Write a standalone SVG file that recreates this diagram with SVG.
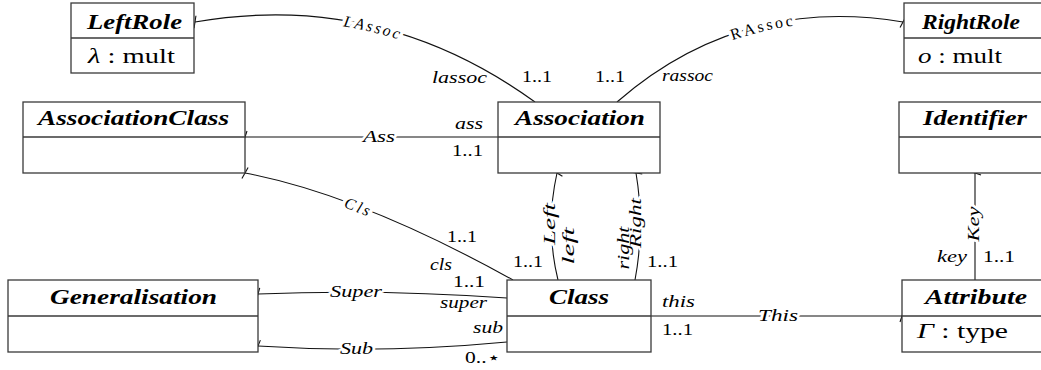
<svg xmlns="http://www.w3.org/2000/svg" width="1041" height="370" viewBox="0 0 1041 370" font-family="Liberation Serif, DejaVu Serif, serif">
  <style>
    .box { fill: #fff; stroke: #3a3a3a; stroke-width: 1.3; }
    .sep { stroke: #3a3a3a; stroke-width: 1.3; }
    .edge { fill: none; stroke: #111; stroke-width: 1.1; }
    .title { font-weight: bold; font-style: italic; font-size: 22px; text-anchor: middle; fill: #000; }
    .body { font-size: 20px; fill: #000; }
    .it { font-style: italic; }
    .lbl { font-size: 16px; font-style: italic; fill: #000; }
    .num { font-size: 16px; fill: #000; }
    .halo { stroke: #fff; stroke-width: 4; paint-order: stroke; stroke-linejoin: round; }
    .wide { stroke-width: 7; }
    .mid { text-anchor: middle; }
  </style>
  <defs>
    <marker id="bar" markerUnits="userSpaceOnUse" viewBox="-8 -8 16 16" markerWidth="16" markerHeight="16" refX="0" refY="0" orient="auto" overflow="visible">
      <path d="M2,-6 L-2,6" stroke="#111" stroke-width="1.1" fill="none"/>
    </marker>
    <path id="p-lassoc" d="M195,22 Q380,-10 535,102"/>
    <path id="p-rassoc" d="M617,102 Q740,-5 903,22"/>
    <path id="p-cls" d="M245,173 Q360,195 513,280"/>
  </defs>

  <!-- connectors -->
  <g id="connectors">
    <use href="#p-lassoc" class="edge" marker-start="url(#bar)"/>
    <use href="#p-rassoc" class="edge" marker-end="url(#bar)"/>
    <use href="#p-cls" class="edge" marker-start="url(#bar)"/>
    <path class="edge" d="M245,137 L498,137" marker-start="url(#bar)"/>
    <path class="edge" d="M557,173 Q545,227 558,280" marker-start="url(#bar)"/>
    <path class="edge" d="M636,173 Q645,227 635,280" marker-start="url(#bar)"/>
    <path class="edge" d="M975,173 L975,280" marker-start="url(#bar)"/>
    <path class="edge" d="M258,294 Q380,289 507,298" marker-start="url(#bar)"/>
    <path class="edge" d="M258,346 Q380,354 507,342" marker-start="url(#bar)"/>
    <path class="edge" d="M651,316 L902,316" marker-end="url(#bar)"/>

    <!-- association names -->
    <text class="lbl halo wide" dominant-baseline="central" letter-spacing="2.3"><textPath href="#p-lassoc" startOffset="50%" text-anchor="middle">LAssoc</textPath></text>
    <text class="num halo wide" dominant-baseline="central" letter-spacing="2.8"><textPath href="#p-rassoc" startOffset="54%" text-anchor="middle">RAssoc</textPath></text>
    <text class="lbl halo wide" dominant-baseline="central" letter-spacing="2.3"><textPath href="#p-cls" startOffset="41%" text-anchor="middle">Cls</textPath></text>
    <text class="lbl halo" x="363" y="142" textLength="32" lengthAdjust="spacingAndGlyphs">Ass</text>
    <text class="lbl halo" x="330" y="297" textLength="52" lengthAdjust="spacingAndGlyphs">Super</text>
    <text class="lbl halo" x="340" y="354" textLength="33" lengthAdjust="spacingAndGlyphs">Sub</text>
    <text class="lbl halo" x="758" y="321" textLength="40" lengthAdjust="spacingAndGlyphs">This</text>
    <text class="lbl halo mid" transform="translate(555,224) rotate(-90)" textLength="42" lengthAdjust="spacingAndGlyphs">Left</text>
    <text class="lbl halo mid" transform="translate(641,223) rotate(-90)" textLength="50" lengthAdjust="spacingAndGlyphs">Right</text>
    <text class="lbl halo mid" transform="translate(979,224) rotate(-90)" textLength="35" lengthAdjust="spacingAndGlyphs">Key</text>

    <!-- role names -->
    <text class="lbl" x="432" y="83" textLength="55" lengthAdjust="spacingAndGlyphs">lassoc</text>
    <text class="lbl" x="662" y="81" textLength="51" lengthAdjust="spacingAndGlyphs">rassoc</text>
    <text class="lbl" x="455" y="129" textLength="28" lengthAdjust="spacingAndGlyphs">ass</text>
    <text class="lbl" x="430" y="270" textLength="22" lengthAdjust="spacingAndGlyphs">cls</text>
    <text class="lbl" x="440" y="308" textLength="47" lengthAdjust="spacingAndGlyphs">super</text>
    <text class="lbl" x="473" y="333" textLength="30" lengthAdjust="spacingAndGlyphs">sub</text>
    <text class="lbl" x="662" y="307" textLength="33" lengthAdjust="spacingAndGlyphs">this</text>
    <text class="lbl" x="937" y="262" textLength="30" lengthAdjust="spacingAndGlyphs">key</text>
    <text class="lbl mid" transform="translate(574,246) rotate(-90)" textLength="37" lengthAdjust="spacingAndGlyphs">left</text>
    <text class="lbl mid" transform="translate(629,248) rotate(-90)" textLength="43" lengthAdjust="spacingAndGlyphs">right</text>

    <!-- multiplicities -->
    <text class="num" x="522" y="82" textLength="30" lengthAdjust="spacingAndGlyphs">1..1</text>
    <text class="num" x="595" y="82" textLength="30" lengthAdjust="spacingAndGlyphs">1..1</text>
    <text class="num" x="452" y="156" textLength="31" lengthAdjust="spacingAndGlyphs">1..1</text>
    <text class="num" x="447" y="242" textLength="30" lengthAdjust="spacingAndGlyphs">1..1</text>
    <text class="num" x="453" y="287" textLength="32" lengthAdjust="spacingAndGlyphs">1..1</text>
    <text class="num" x="465" y="363" textLength="35" lengthAdjust="spacingAndGlyphs">0..⋆</text>
    <text class="num" x="513" y="267" textLength="30" lengthAdjust="spacingAndGlyphs">1..1</text>
    <text class="num" x="647" y="267" textLength="31" lengthAdjust="spacingAndGlyphs">1..1</text>
    <text class="num" x="662" y="335" textLength="31" lengthAdjust="spacingAndGlyphs">1..1</text>
    <text class="num" x="983" y="262" textLength="32" lengthAdjust="spacingAndGlyphs">1..1</text>
  </g>

  <!-- classes -->
  <g id="LeftRole">
    <rect class="box" x="71" y="3" width="123" height="70"/>
    <line class="sep" x1="71" y1="38" x2="194" y2="38"/>
    <text class="title" x="134.5" y="29" textLength="95" lengthAdjust="spacingAndGlyphs">LeftRole</text>
    <text class="body" x="88" y="63" textLength="87" lengthAdjust="spacingAndGlyphs"><tspan class="it">λ</tspan> : mult</text>
  </g>
  <g id="RightRole">
    <rect class="box" x="904" y="3" width="140" height="70"/>
    <line class="sep" x1="904" y1="38" x2="1044" y2="38"/>
    <text class="title" x="971" y="29" textLength="98" lengthAdjust="spacingAndGlyphs">RightRole</text>
    <text class="body" x="918" y="63" textLength="84" lengthAdjust="spacingAndGlyphs"><tspan class="it">o</tspan> : mult</text>
  </g>
  <g id="AssociationClass">
    <rect class="box" x="23" y="102" width="222" height="71"/>
    <line class="sep" x1="23" y1="137" x2="245" y2="137"/>
    <text class="title" x="133.5" y="125" textLength="191" lengthAdjust="spacingAndGlyphs">AssociationClass</text>
  </g>
  <g id="Association">
    <rect class="box" x="498" y="102" width="162" height="71"/>
    <line class="sep" x1="498" y1="137" x2="660" y2="137"/>
    <text class="title" x="580" y="125" textLength="130" lengthAdjust="spacingAndGlyphs">Association</text>
  </g>
  <g id="Identifier">
    <rect class="box" x="899" y="102" width="150" height="71"/>
    <line class="sep" x1="899" y1="137" x2="1049" y2="137"/>
    <text class="title" x="975" y="125" textLength="104" lengthAdjust="spacingAndGlyphs">Identifier</text>
  </g>
  <g id="Generalisation">
    <rect class="box" x="8" y="280" width="250" height="72"/>
    <line class="sep" x1="8" y1="316" x2="258" y2="316"/>
    <text class="title" x="133.5" y="304" textLength="167" lengthAdjust="spacingAndGlyphs">Generalisation</text>
  </g>
  <g id="Class">
    <rect class="box" x="507" y="280" width="144" height="72"/>
    <line class="sep" x1="507" y1="316" x2="651" y2="316"/>
    <text class="title" x="579" y="304" textLength="60" lengthAdjust="spacingAndGlyphs">Class</text>
  </g>
  <g id="Attribute">
    <rect class="box" x="902" y="280" width="150" height="72"/>
    <line class="sep" x1="902" y1="316" x2="1052" y2="316"/>
    <text class="title" x="976" y="304" textLength="102" lengthAdjust="spacingAndGlyphs">Attribute</text>
    <text class="body" x="917" y="338" textLength="91" lengthAdjust="spacingAndGlyphs"><tspan class="it">Γ</tspan> : type</text>
  </g>
</svg>
